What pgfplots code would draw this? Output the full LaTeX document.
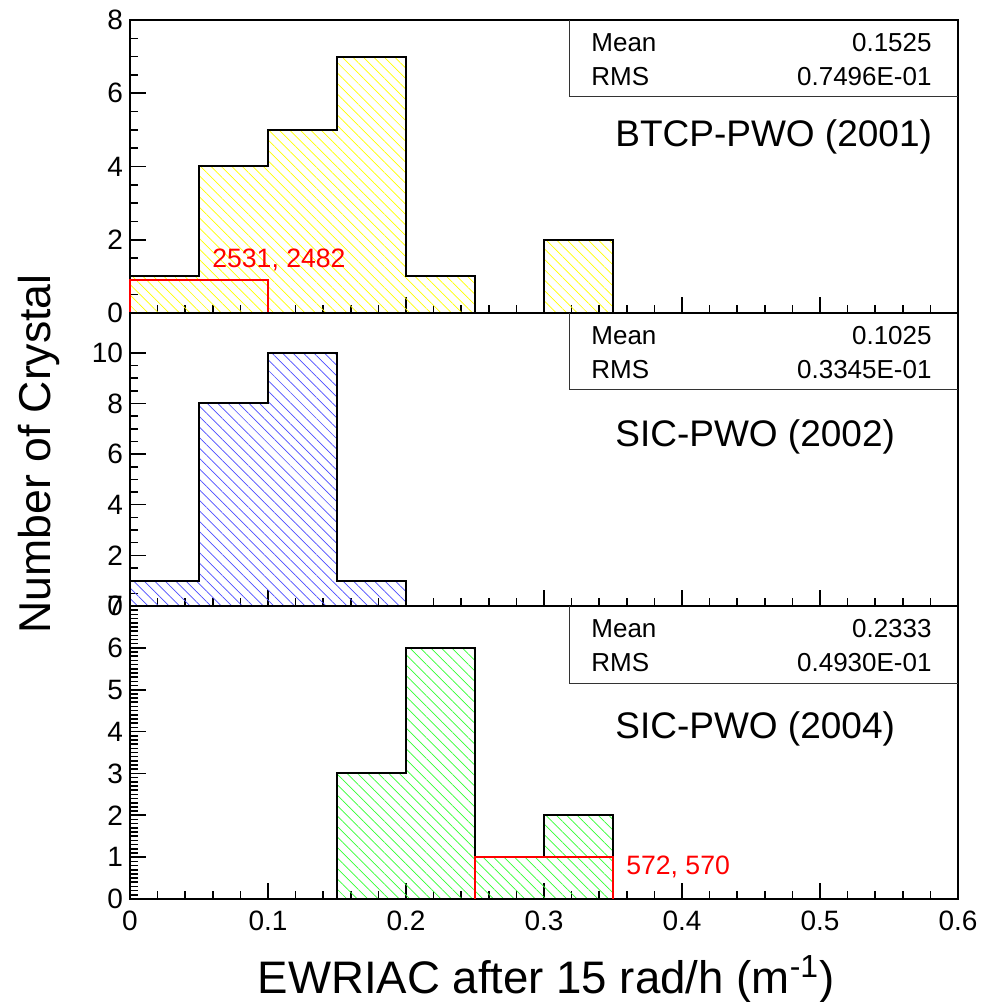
\documentclass[border=0pt]{standalone}
\usepackage{fontspec}
\setmainfont{Liberation Sans}
\usepackage{pgfplots}
\pgfplotsset{compat=1.18}
\usetikzlibrary{patterns.meta}

% Histogram contents: left bin edge, count (bin width 0.05); last row closes the step
\pgfplotsset{
  panel/.style={
    scale only axis, width=414pt, height=146.5pt,
    xmin=0, xmax=0.6, ymin=0, clip=false,
    xtick={0,0.1,0.2,0.3,0.4,0.5,0.6}, minor x tick num=4,
    xtick pos=left, ytick pos=left, tick align=inside,
    major tick length=8pt, minor tick length=4pt,
    every tick/.style={black, line width=0.8pt},
    axis line style={line width=1pt},
    /pgf/number format/assume math mode=true,
    ticklabel style={font=\fontsize{14}{16}\selectfont},
    xticklabel style={yshift=-2.5pt, /pgf/number format/fixed},
    yticklabel style={/pgf/number format/fixed},
  },
  hist/.style={const plot mark left, draw=black, line width=1pt,
    pattern={Lines[angle=-45,distance=3.7pt,line width=0.35pt]}, pattern color=#1},
  redline/.style={draw=red, line width=1pt},
}
\tikzset{
  stat/.style={font=\fontsize{13}{15}\selectfont, inner sep=0pt},
  tag/.style={font=\fontsize{18.5}{20}\selectfont, anchor=base west, inner sep=0pt},
  note/.style={red, font=\fontsize{13.3}{15}\selectfont, anchor=base west, inner sep=0pt},
}
% Stats box in the upper right corner of a panel
\newcommand{\statbox}[2]{%
  \draw[line width=0.5pt, black!80] (rel axis cs:0.5314,1) -- (rel axis cs:0.5314,0.7372) -- (rel axis cs:1,0.7372);
  \node[stat, anchor=base west] at (rel axis cs:0.5568,0.894) {Mean};
  \node[stat, anchor=base east] at (rel axis cs:0.9686,0.894) {#1};
  \node[stat, anchor=base west] at (rel axis cs:0.5568,0.775) {RMS};
  \node[stat, anchor=base east] at (rel axis cs:0.9686,0.775) {#2};
}

\begin{document}
\begin{tikzpicture}
\useasboundingbox (0,0) rectangle (490.5pt,501pt);

% ---- BTCP-PWO (2001)
\begin{axis}[panel, at={(65pt,344.5pt)}, anchor=south west,
  ymax=8, ytick={0,2,4,6,8}, minor y tick num=3, xticklabels={}]
  \addplot[hist=yellow] coordinates {
    (0,1) (0.05,4) (0.10,5) (0.15,7) (0.20,1) (0.25,0) (0.30,2) (0.35,0)} \closedcycle;
  \addplot[redline] coordinates {(0,0) (0,0.9) (0.1,0.9) (0.1,0)};
  \node[note] at (axis cs:0.0594,1.23) {2531, 2482};
  \statbox{0.1525}{0.7496E-01}
  \node[tag] at (rel axis cs:0.5857,0.567) {BTCP-PWO (2001)};
\end{axis}

% ---- SIC-PWO (2002)
\begin{axis}[panel, at={(65pt,198pt)}, anchor=south west,
  ymax=11.57, ytick={0,2,4,6,8,10}, minor y tick num=3, xticklabels={}]
  \addplot[hist=blue!70] coordinates {
    (0,1) (0.05,8) (0.10,10) (0.15,1) (0.20,0)} \closedcycle;
  \statbox{0.1025}{0.3345E-01}
  \node[tag] at (rel axis cs:0.5857,0.545) {SIC-PWO (2002)};
\end{axis}

% ---- SIC-PWO (2004)
\begin{axis}[panel, at={(65pt,51.5pt)}, anchor=south west,
  ymax=7, ytick={0,1,2,3,4,5,6,7}, minor y tick num=9]
  \addplot[hist=green!80] coordinates {
    (0.15,3) (0.20,6) (0.25,1) (0.30,2) (0.35,0)} \closedcycle;
  \addplot[redline] coordinates {(0.25,0) (0.25,1) (0.35,1) (0.35,0)};
  \node[note] at (axis cs:0.3594,0.576) {572, 570};
  \statbox{0.2333}{0.4930E-01}
  \node[tag] at (rel axis cs:0.5857,0.549) {SIC-PWO (2004)};
\end{axis}

% Axis titles
\node[rotate=90, anchor=base, font=\fontsize{22.3}{24}\selectfont] at (25pt,274pt) {Number of Crystal};
\node[anchor=base, font=\fontsize{22.8}{24}\selectfont] at (273pt,4.5pt) {EWRIAC after 15 rad/h (m\textsuperscript{-1})};
\end{tikzpicture}
\end{document}
